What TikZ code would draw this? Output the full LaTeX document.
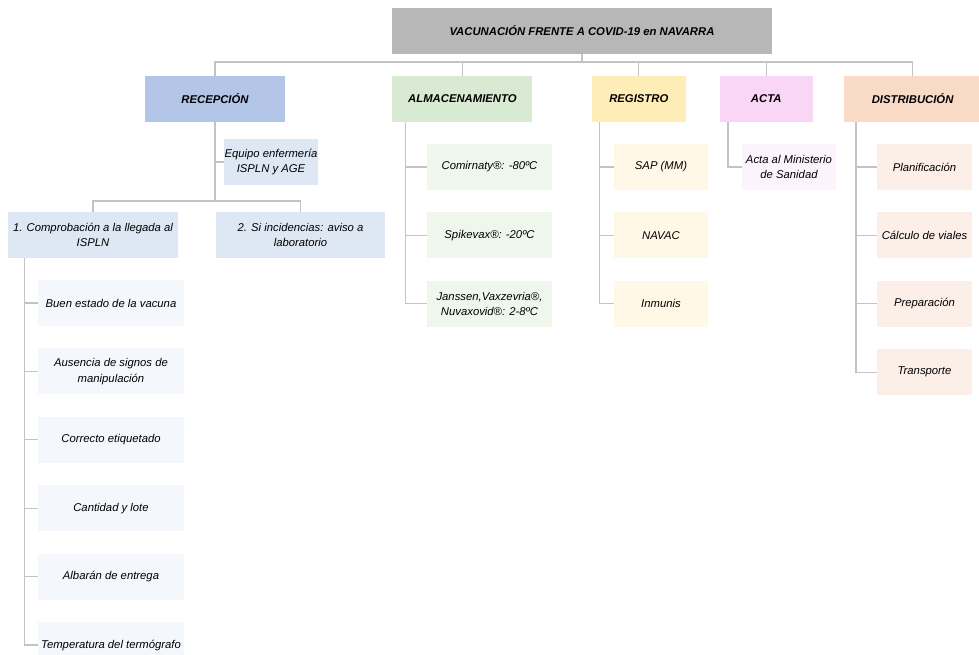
\documentclass[tikz,border=0pt]{standalone}
\usepackage{fontspec}
\setmainfont{Liberation Sans}
\usetikzlibrary{positioning,calc}

\definecolor{titlegray}{HTML}{B7B7B7}
\definecolor{linegray}{HTML}{C3C3C3}
\definecolor{recepblue}{HTML}{B4C6E7}
\definecolor{recepmid}{HTML}{DEE8F5}
\definecolor{receplight}{HTML}{F4F7FC}
\definecolor{almacgreen}{HTML}{D9EAD3}
\definecolor{almaclight}{HTML}{EFF6EC}
\definecolor{regisyellow}{HTML}{FFEDB7}
\definecolor{regislight}{HTML}{FFF8E6}
\definecolor{actapink}{HTML}{F9D6F6}
\definecolor{actalight}{HTML}{FDF3FC}
\definecolor{distrpeach}{HTML}{F9DAC6}
\definecolor{distrlight}{HTML}{FBEFE8}

\tikzset{
  box/.style={rectangle, align=center, inner sep=1pt, minimum height=46pt,
    font=\fontsize{11.3}{15.6}\selectfont\itshape},
  head/.style={box, font=\fontsize{11.3}{15.6}\selectfont\bfseries\itshape},
  link/.style={draw=linegray, line width=1.2pt}
}

\begin{document}
\begin{tikzpicture}[x=1pt,y=-1pt]
  \useasboundingbox (0,0) rectangle (979,654);

  \node[head, fill=titlegray, minimum width=380pt] (title) at (582,31) {VACUNACIÓN FRENTE A COVID-19 en NAVARRA};

  \node[head, fill=recepblue, minimum width=140pt] (recep) at (215,99) {RECEPCIÓN};
  \node[head, fill=almacgreen, minimum width=140pt, right = 107pt of recep] (almac) {ALMACENAMIENTO};
  \node[head, fill=regisyellow, minimum width=94pt, right = 59pt of almac] (regis) {REGISTRO};
  \node[head, fill=actapink, minimum width=93pt, right = 33.5pt of regis] (acta) {ACTA};
  \node[head, fill=distrpeach, minimum width=137pt, right = 31pt of acta] (distr) {DISTRIBUCIÓN};

  \coordinate (bus) at (582,62);
  \draw[link] (title.south) -- (bus);
  \draw[link] (recep.north) |- (bus);
  \draw[link] (almac.north) |- (bus);
  \draw[link] (regis.north) |- (bus);
  \draw[link] (acta.north) |- (bus);
  \draw[link] (distr.north) |- (bus);

  % recepcion
  \node[box, fill=recepmid, minimum width=94pt, inner xsep=0pt] (equipo) at (271,162) {Equipo enfermería\\ISPLN y AGE};
  \node[box, fill=recepmid, minimum width=170pt] (comp) at (93,235) {1. Comprobación a la llegada al\\ISPLN};
  \node[box, fill=recepmid, minimum width=169pt] (incid) at (300.5,235) {2. Si incidencias: aviso a\\laboratorio};

  \coordinate (rbus) at (215,201);
  \draw[link] (recep.south) -- (rbus);
  \draw[link] (equipo.west) -- (equipo.west -| recep.south);
  \draw[link] (comp.north) |- (rbus);
  \draw[link] (incid.north) |- (rbus);

  \node[box, fill=receplight, minimum width=146pt] (buen) at (111,303) {Buen estado de la vacuna};
  \node[box, fill=receplight, minimum width=146pt, below = 22pt of buen] (ausencia) {Ausencia de signos de\\manipulación};
  \node[box, fill=receplight, minimum width=146pt, below = 22pt of ausencia] (etiq) {Correcto etiquetado};
  \node[box, fill=receplight, minimum width=146pt, below = 22pt of etiq] (lote) {Cantidad y lote};
  \node[box, fill=receplight, minimum width=146pt, below = 22pt of lote] (albaran) {Albarán de entrega};
  \node[box, fill=receplight, minimum width=146pt, below = 22pt of albaran] (termo) {Temperatura del termógrafo};

  \coordinate (ctrunk) at ($(comp.south west)+(17,0)$);
  \draw[link] (ctrunk) |- (buen.west);
  \draw[link] (ctrunk) |- (ausencia.west);
  \draw[link] (ctrunk) |- (etiq.west);
  \draw[link] (ctrunk) |- (lote.west);
  \draw[link] (ctrunk) |- (albaran.west);
  \draw[link] (ctrunk) |- (termo.west);

  % almacenamiento
  \node[box, fill=almaclight, minimum width=125pt] (comir) at (489.5,167) {Comirnaty®: -80ºC};
  \node[box, fill=almaclight, minimum width=125pt, below = 22pt of comir] (spike) {Spikevax®: -20ºC};
  \node[box, fill=almaclight, minimum width=125pt, below = 22pt of spike] (janss) {Janssen,Vaxzevria®,\\Nuvaxovid®: 2-8ºC};

  \coordinate (atrunk) at ($(almac.south west)+(13,0)$);
  \draw[link] (atrunk) |- (comir.west);
  \draw[link] (atrunk) |- (spike.west);
  \draw[link] (atrunk) |- (janss.west);

  % registro
  \node[box, fill=regislight, minimum width=94pt] (sap) at (661,167) {SAP (MM)};
  \node[box, fill=regislight, minimum width=94pt, below = 22pt of sap] (navac) {NAVAC};
  \node[box, fill=regislight, minimum width=94pt, below = 22pt of navac] (inmunis) {Inmunis};

  \coordinate (gtrunk) at ($(regis.south west)+(8,0)$);
  \draw[link] (gtrunk) |- (sap.west);
  \draw[link] (gtrunk) |- (navac.west);
  \draw[link] (gtrunk) |- (inmunis.west);

  % acta
  \node[box, fill=actalight, minimum width=94pt, inner xsep=0pt] (minis) at (789,167) {Acta al Ministerio\\de Sanidad};
  \draw[link] ($(acta.south west)+(8.5,0)$) |- (minis.west);

  % distribucion
  \node[box, fill=distrlight, minimum width=95pt] (plan) at (924.5,167) {Planificación};
  \node[box, fill=distrlight, minimum width=95pt, below = 22pt of plan] (calc) {Cálculo de viales};
  \node[box, fill=distrlight, minimum width=95pt, below = 22pt of calc] (prep) {Preparación};
  \node[box, fill=distrlight, minimum width=95pt, below = 22pt of prep] (transp) {Transporte};

  \coordinate (dtrunk) at ($(distr.south west)+(12,0)$);
  \draw[link] (dtrunk) |- (plan.west);
  \draw[link] (dtrunk) |- (calc.west);
  \draw[link] (dtrunk) |- (prep.west);
  \draw[link] (dtrunk) |- (transp.west);

\end{tikzpicture}
\end{document}
